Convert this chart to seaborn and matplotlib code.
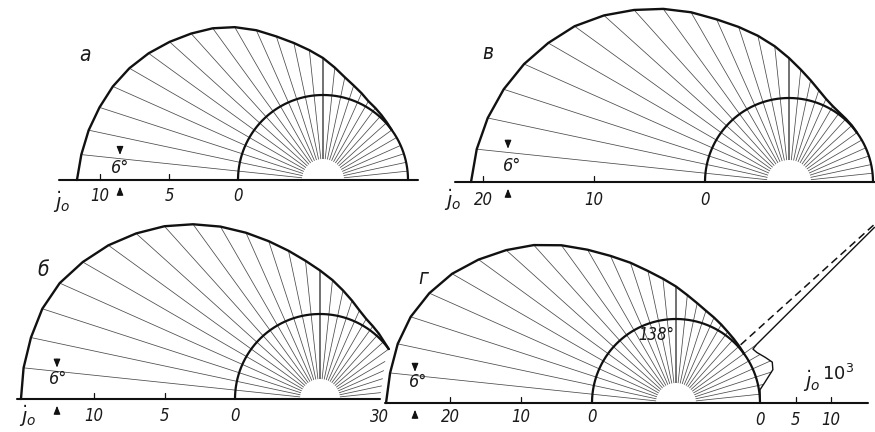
import numpy as np
import pandas as pd
import matplotlib
matplotlib.use("Agg")
import matplotlib.pyplot as plt
from matplotlib import font_manager
import seaborn as sns
from matplotlib.collections import LineCollection

sns.set_style("white")
names = {f.name for f in font_manager.fontManager.ttflist}
FAM = 'Liberation Sans Narrow' if 'Liberation Sans Narrow' in names else 'DejaVu Sans'
plt.rcParams['font.family'] = [FAM, 'DejaVu Sans']
plt.rcParams['mathtext.fontset'] = 'custom'
plt.rcParams['mathtext.it'] = FAM + ':italic'
plt.rcParams['mathtext.rm'] = FAM

# ---------------- data ----------------
angles = np.arange(0, 181, 6)          # ray directions, degrees (0..180)

j_a = [0, 0, 0, 0, 0, 0, 0, 0.07, 0.17, 0.29, 0.43, 0.72, 1.04, 1.45, 2.03, 2.68,
       3.30, 3.99, 4.78, 5.72, 6.63, 7.43, 8.12, 8.80, 9.46, 10.04, 10.51, 10.87, 11.2, 11.45, 11.67]
j_v = [0, 0, 0, 0, 0, 0, 0, 0.05, 0.09, 0.16, 0.32, 0.63, 1.13, 1.80, 2.61, 3.60,
       4.73, 5.90, 7.12, 8.47, 10.09, 11.71, 13.29, 14.86, 16.31, 17.48, 18.56, 19.46, 20.18, 20.72, 21.08]
j_b = [-1.77, -1.69, -1.55, -1.35, -1.07, -0.69, 0.0, 0.07, 0.21, 0.35, 0.53, 0.85, 1.31, 1.84, 2.45, 3.09,
       3.83, 4.72, 5.74, 6.88, 8.09, 9.29, 10.46, 11.52, 12.52, 13.40, 14.18, 14.68, 14.93, 15.11, 15.18]
j_g = [0, 0, 0, 0, 0, 0, 0, 0.14, 0.32, 0.56, 0.92, 1.34, 1.83, 2.54, 3.45, 4.58,
       5.77, 7.18, 8.94, 10.85, 13.10, 15.63, 18.10, 20.35, 22.54, 24.58, 26.20, 27.46, 28.24, 28.66, 29.01]

# small lobe of panel г (units of 10^3)
lobe_ang = [0, 9, 13, 19, 20.5, 23, 27, 32, 35, 36, 41.5]
lobe_j = [0, 0.15, 1.0, 2.6, 2.7, 2.9, 2.3, 1.6, 1.4, 2.2, 25.5]
spike_angle = 42      # 180 - 138

ticks_a = [10, 5]
ticks_v = [20, 10]
ticks_b = [10, 5]
ticks_g = [20, 10]
ticks_g_right = [5, 10]
labels_a = ["10", "5", "0"]
labels_v = ["20", "10", "0"]
labels_b = ["10", "5", "0"]
labels_g = ["30", "20", "10", "0"]

# -------------- layout (figure pixels) --------------
panels = {
    "а": dict(cx=323, cy=180, R0=85, hole=21, k=13.8, base=(59, 418), j=j_a,
              ticks=ticks_a, labels=labels_a, lab_vals=[10, 5, 0], lab_dy=16,
              jo=(62, 202), letter=(85, 55), arrow_x=120, deg=(120, 168)),
    "в": dict(cx=789, cy=182, R0=84, hole=22, k=11.1, base=(455, 875), j=j_v,
              ticks=ticks_v, labels=labels_v, lab_vals=[20, 10, 0], lab_dy=18,
              jo=(453, 200), letter=(488, 53), arrow_x=508, deg=(512, 166)),
    "б": dict(cx=320, cy=399, R0=85, hole=20, k=14.1, base=(17, 380), j=j_b,
              ticks=ticks_b, labels=labels_b, lab_vals=[10, 5, 0], lab_dy=17,
              jo=(28, 416), letter=(43, 270), arrow_x=57, deg=(58, 379)),
    "г": dict(cx=676, cy=403, R0=84, hole=20, k=7.1, base=(385, 868), j=j_g,
              ticks=ticks_g, labels=labels_g, lab_vals=[30, 20, 10, 0], lab_dy=14,
              jo=None, letter=(423, 278), arrow_x=415, deg=(418, 382)),
}

fig = plt.figure(figsize=(8.75, 4.32), dpi=100)
ax = fig.add_axes([0, 0, 1, 1])
ax.set_xlim(0, 875)
ax.set_ylim(432, 0)
ax.axis("off")

txt = dict(style="italic", color="#1a1a1a", ha="center", va="center", stretch="condensed")
CURVE = "#111111"
RAY = "#4a4a4a"


def pxy(p, th_deg, r):
    th = np.radians(th_deg)
    return p["cx"] + r * np.cos(th), p["cy"] - r * np.sin(th)


def curve(xs, ys, lw, color=CURVE, ls="-"):
    df = pd.DataFrame({"x": xs, "y": ys})
    sns.lineplot(data=df, x="x", y="y", sort=False, estimator=None, color=color,
                 lw=lw, ls=ls, ax=ax, legend=False, zorder=4)


for name, p in panels.items():
    jv = np.array(p["j"], dtype=float)
    r_end = p["R0"] + p["k"] * jv
    if name == "г":
        lob = np.interp(angles, lobe_ang, lobe_j, right=0)
        lob[angles > 36] = 0
        r_end = p["R0"] + p["k"] * np.maximum(jv, lob)
    # rays
    segs = []
    for th, re in zip(angles[1:-1], r_end[1:-1]):
        x0, y0 = pxy(p, th, p["hole"])
        x1, y1 = pxy(p, th, re)
        segs.append([(x0, y0), (x1, y1)])
    lws = [1.1 if th == 90 else 0.55 for th in angles[1:-1]]
    ax.add_collection(LineCollection(segs, colors=RAY, linewidths=lws, zorder=2))

    # inner reference semicircle
    start = 36 if name == "б" else 0
    th_in = np.linspace(start, 180, 200)
    xi, yi = pxy(p, th_in, p["R0"])
    curve(xi, yi, 1.6)

    # outer curve (where the value is positive)
    m = angles >= 36
    xo, yo = pxy(p, angles[m], p["R0"] + p["k"] * jv[m])
    curve(xo, yo, 1.7)

    # baseline
    ax.plot(p["base"], [p["cy"], p["cy"]], color=CURVE, lw=1.5, zorder=4)
    # ticks
    for t in p["ticks"]:
        x = p["cx"] - p["R0"] - p["k"] * t
        ax.plot([x, x], [p["cy"], p["cy"] - 6], color=CURVE, lw=0.9, zorder=4)
    for lab, v in zip(p["labels"], p["lab_vals"]):
        x = p["cx"] - p["R0"] - p["k"] * v
        ax.text(x, p["cy"] + p["lab_dy"], lab, fontsize=12, **txt)
    if p["jo"] is not None:
        ax.text(*p["jo"], r"$\dot{\jmath}_o$", fontsize=14, **txt)
    ax.text(*p["letter"], name, fontsize=15, **txt)

    # 6° marker
    ax_x = p["arrow_x"]
    y_ray = p["cy"] - (p["cx"] - ax_x) * np.tan(np.radians(6))
    ax.annotate("", xy=(ax_x, y_ray - 1), xytext=(ax_x, y_ray - 15),
                arrowprops=dict(arrowstyle="-|>,head_length=0.5,head_width=0.2",
                                color=CURVE, lw=0.8))
    ax.annotate("", xy=(ax_x, p["cy"] + 4), xytext=(ax_x, p["cy"] + 18),
                arrowprops=dict(arrowstyle="-|>,head_length=0.5,head_width=0.2",
                                color=CURVE, lw=0.8))
    ax.text(*p["deg"], "6°", fontsize=13, **txt)

# panel г extras: lobe, spike direction, right-hand scale
pg = panels["г"]
xl, yl = pxy(pg, np.array(lobe_ang), pg["R0"] + pg["k"] * np.array(lobe_j))
curve(xl, yl, 1.0)
xd, yd = pxy(pg, np.array([spike_angle, spike_angle]), np.array([pg["R0"] + 3, 275]))
ax.plot(xd, yd, color=CURVE, lw=1.1, ls=(0, (5, 3)), zorder=4)
ax.text(656, 335, "138°", fontsize=12, **txt)
x0r = pg["cx"] + pg["R0"]
ax.text(x0r, pg["cy"] + 17, "0", fontsize=12, **txt)
for t in ticks_g_right:
    x = x0r + pg["k"] * t
    ax.plot([x, x], [pg["cy"], pg["cy"] - 6], color=CURVE, lw=0.9, zorder=4)
    ax.text(x, pg["cy"] + 17, str(t), fontsize=12, **txt)
ax.text(812, 381, r"$\dot{\jmath}_o$", fontsize=14, **txt)
ax.text(838, 374, r"$10^3$", fontsize=13, **txt)

fig.savefig("out.png", dpi=100, facecolor="white")
